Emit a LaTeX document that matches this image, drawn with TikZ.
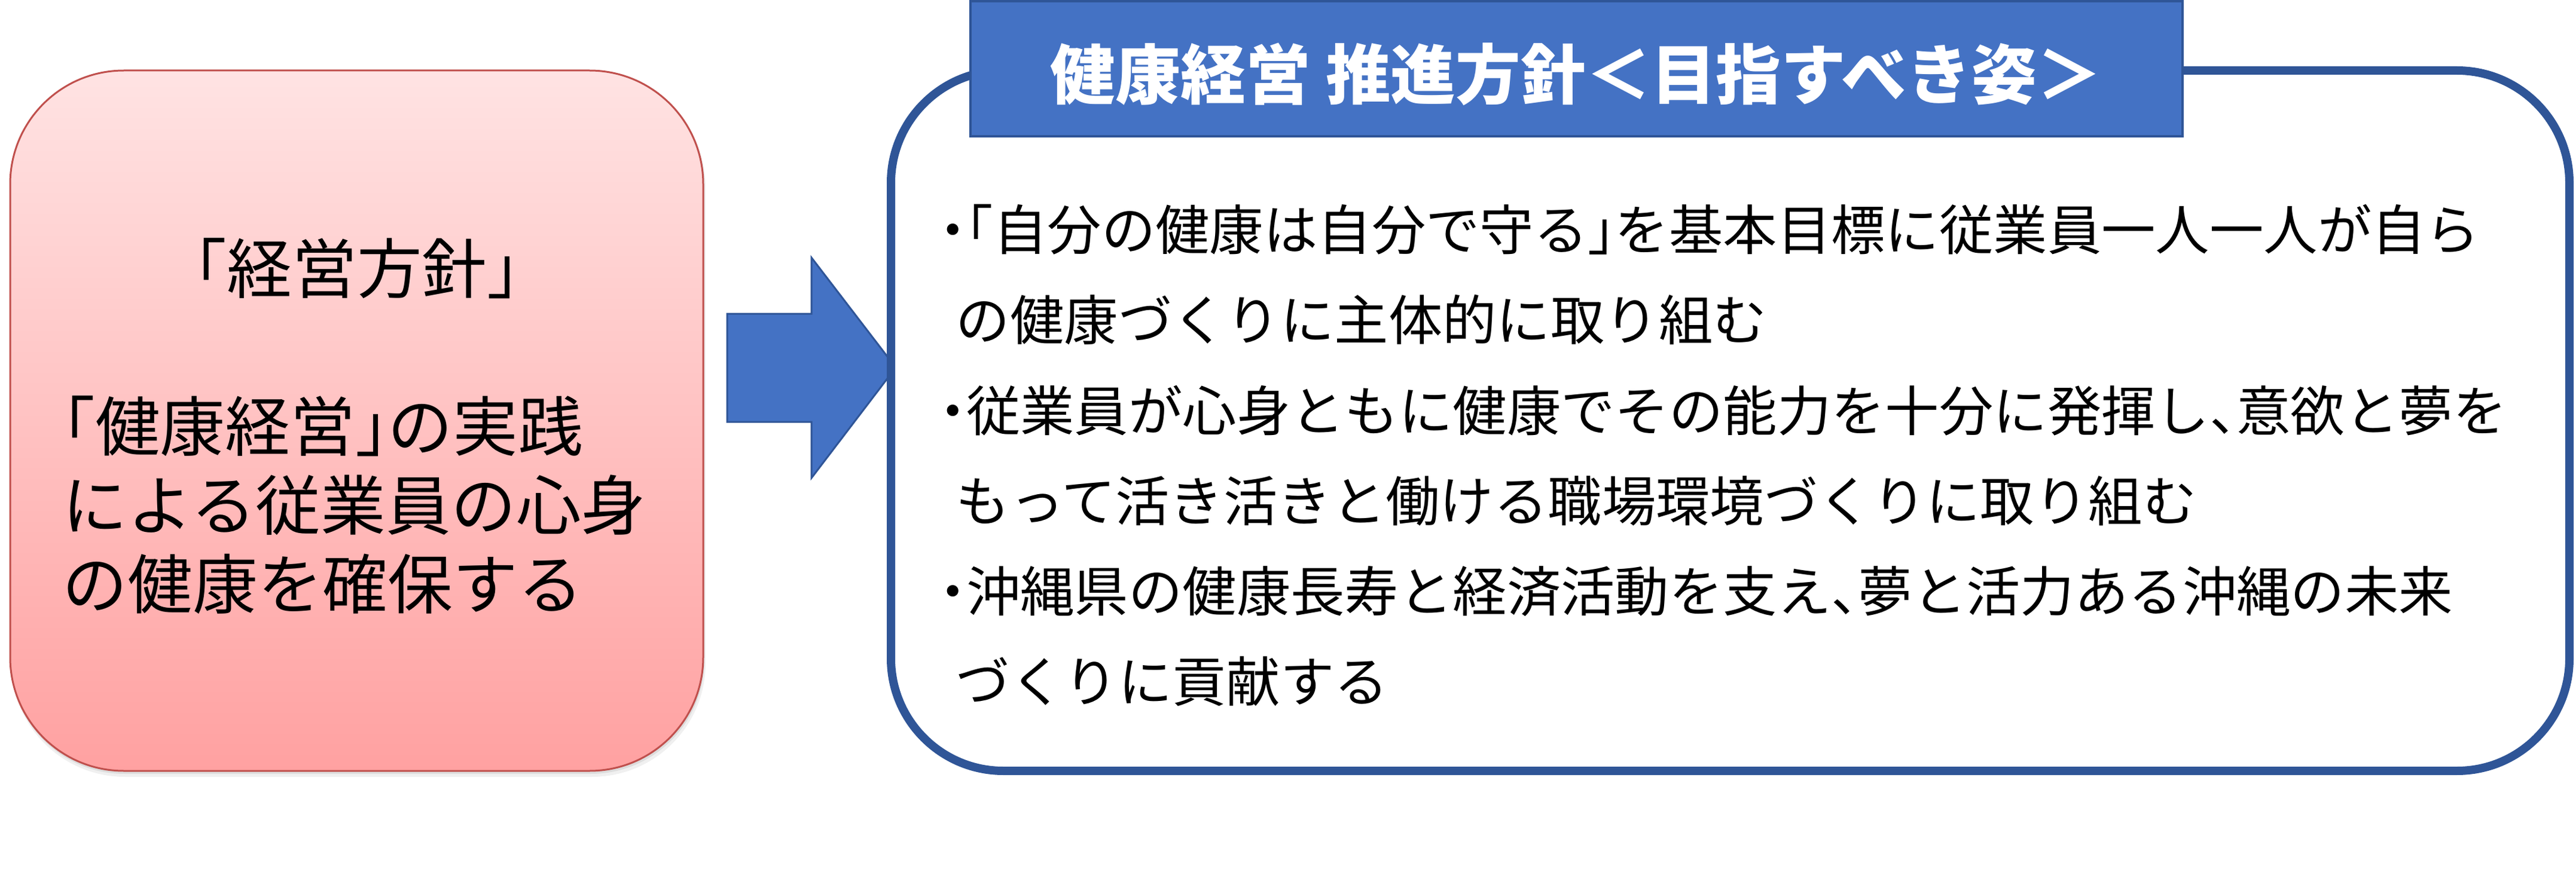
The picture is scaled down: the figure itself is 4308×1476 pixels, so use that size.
\documentclass[tikz,border=0pt]{standalone}
\usepackage{fontspec}
\newfontfamily\jp{Noto Sans CJK JP}[RawFeature={+halt}]
\definecolor{boxblue}{HTML}{2F5597}
\definecolor{fillblue}{HTML}{4472C4}
\definecolor{pinkedge}{HTML}{C0504D}
\definecolor{pinktop}{HTML}{FFE3E3}
\definecolor{pinkbot}{HTML}{FFA1A1}
\begin{document}
\begin{tikzpicture}[x=0.25pt,y=-0.25pt,
  rtxt/.style={inner sep=0pt, anchor=base west, font=\jp\fontsize{22.6pt}{27pt}\selectfont},
  ltxt/.style={inner sep=0pt, anchor=base west, font=\jp\fontsize{27.2pt}{32pt}\selectfont},
  ttxt/.style={inner sep=0pt, anchor=base, text=white, font=\jp\bfseries\fontsize{27.2pt}{32pt}\selectfont}]
\useasboundingbox (0,0) rectangle (4308,1476);
% left box shadow
\fill[black, opacity=0.06, rounded corners=47.5pt] (19,124) rectangle (1180,1300);
\fill[black, opacity=0.08, rounded corners=47.5pt] (18,121) rectangle (1178,1295);
% left box
\draw[pinkedge, line width=0.75pt, top color=pinktop, bottom color=pinkbot, rounded corners=47.5pt]
  (17,118) rectangle (1176,1290);
\node[ltxt, anchor=base] (l1) at (597,490) {「経営方針」};
\node[ltxt] (l2) at (104,754) {「健康経営」の実践};
\node[ltxt] (l3) at (104,886) {による従業員の心身};
\node[ltxt] (l4) at (104,1018) {の健康を確保する};
% block arrow
\draw[boxblue, line width=0.75pt, fill=fillblue, line join=miter]
  (1216,525) -- (1357,525) -- (1357,431) -- (1498,615) -- (1357,800) -- (1357,706) -- (1216,706) -- cycle;
% right box
\draw[boxblue, line width=3.5pt, fill=white, rounded corners=47pt] (1490,118) rectangle (4297,1290);
% title box
\draw[boxblue, line width=1pt, fill=fillblue] (1623,2) rectangle (3650,228);
\node[ttxt] (title) at (2636,166) {健康経営 推進方針＜目指すべき姿＞};
% right text
\node[rtxt] (r1) at (1570,419) {・「自分の健康は自分で守る」を基本目標に従業員一人一人が自ら};
\node[rtxt] (r2) at (1598,570) {の健康づくりに主体的に取り組む};
\node[rtxt] (r3) at (1570,721) {・従業員が心身ともに健康でその能力を十分に発揮し、意欲と夢を};
\node[rtxt] (r4) at (1598,872) {もって活き活きと働ける職場環境づくりに取り組む};
\node[rtxt] (r5) at (1570,1023) {・沖縄県の健康長寿と経済活動を支え、夢と活力ある沖縄の未来};
\node[rtxt] (r6) at (1598,1174) {づくりに貢献する};
\end{tikzpicture}
\end{document}
